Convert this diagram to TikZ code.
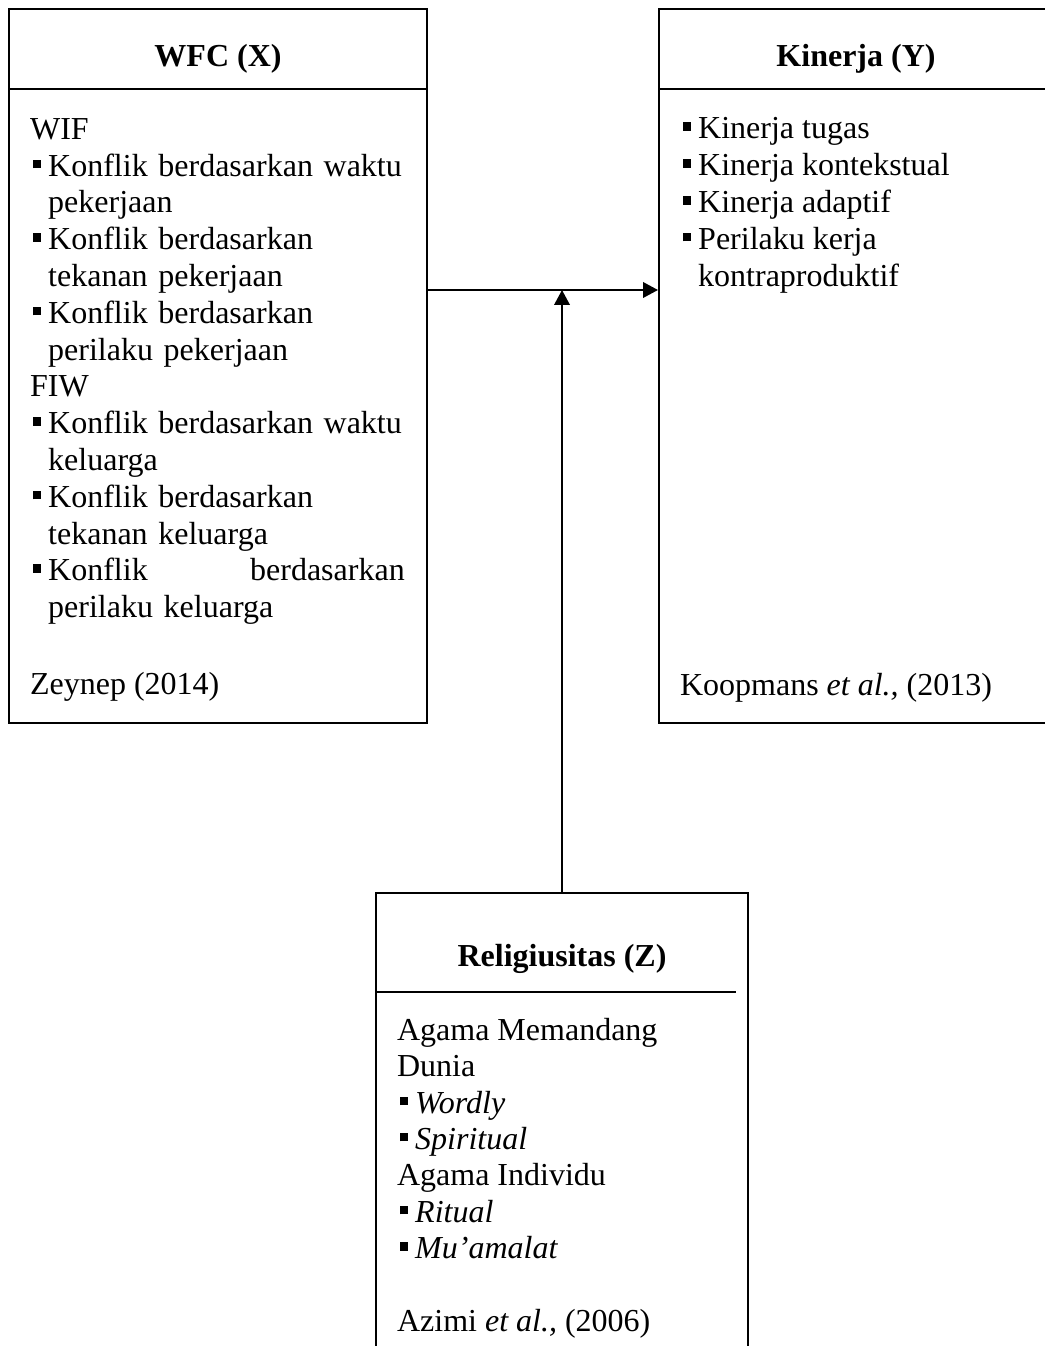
\documentclass[tikz,border=0pt]{standalone}
\usepackage{fontspec}
\setmainfont{Liberation Serif}
\usetikzlibrary{arrows.meta,positioning}
\newcommand{\sqbul}{\hspace*{1pt}\rule[3pt]{3pt}{3.2pt}\hspace*{2.8pt}}
\newcommand{\hang}{\hspace*{6.8pt}}

\begin{document}
\begin{tikzpicture}[x=0.375pt, y=-0.375pt, font=\fontsize{12}{13.8}\selectfont, line width=0.75pt]
\tikzstyle{box}=[draw, inner sep=0pt]
\tikzstyle{head}=[font=\fontsize{12}{13.8}\selectfont\bfseries, inner sep=0pt]
\tikzstyle{body}=[align=left, inner sep=0pt, anchor=north west]
\tikzstyle{cite}=[anchor=base west, inner sep=0pt]
\tikzstyle{arr}=[-{Triangle[length=5.6pt,width=5.8pt]}]
\useasboundingbox (0,0) rectangle (1044,1346);
\node[box, minimum width=156.75pt, minimum height=267.75pt] (wfc) at (218,366) {};
\node[box, minimum width=147.75pt, minimum height=267.75pt] (kin) at (856,366) {};
\node[box, minimum width=139.5pt, minimum height=178.9pt] (rel) at (562,1131.5) {};
\draw ([yshift=-30.4pt]wfc.north west) -- ([yshift=-30.4pt]wfc.north east);
\draw ([yshift=-30.4pt]kin.north west) -- ([yshift=-30.4pt]kin.north east);
\draw ([yshift=-37.5pt]rel.north west) -- ([xshift=-4.9pt,yshift=-37.5pt]rel.north east);
\node[head] (wfct) at ([yshift=-18.9pt]wfc.north) {WFC (X)};
\node[head] (kint) at ([yshift=-18.9pt]kin.north) {Kinerja (Y)};
\node[head] (relt) at ([yshift=-25.1pt]rel.north) {Religiusitas (Z)};
\node[body, text width=140.5pt, below right=41pt and 7.9pt of wfc.north west] (wfcb) {WIF\\
\sqbul Konflik berdasarkan waktu\\
\hang pekerjaan\\
\sqbul Konflik berdasarkan\\
\hang tekanan pekerjaan\\
\sqbul Konflik berdasarkan\\
\hang perilaku pekerjaan\\
FIW\\
\sqbul Konflik berdasarkan waktu\\
\hang keluarga\\
\sqbul Konflik berdasarkan\\
\hang tekanan keluarga\\
\sqbul Konflik\hfill berdasarkan\\
\hang perilaku keluarga};
\node[body, below right=40.8pt and 7.9pt of kin.north west] (kinb) {\sqbul Kinerja tugas\\
\sqbul Kinerja kontekstual\\
\sqbul Kinerja adaptif\\
\sqbul Perilaku kerja\\
\hang kontraproduktif};
\node[body, font=\fontsize{12}{13.65}\selectfont, below right=46.9pt and 7.9pt of rel.north west] (relb) {Agama Memandang\\
Dunia\\
\sqbul\textit{Wordly}\\
\sqbul\textit{Spiritual}\\
Agama Individu\\
\sqbul\textit{Ritual}\\
\sqbul\textit{Mu’amalat}\\[13.65pt]
Azimi \textit{et al.,} (2006)};
\node[cite] (wfcc) at ([xshift=7.9pt,yshift=11pt]wfc.south west) {Zeynep (2014)};
\node[cite] (kinc) at ([xshift=7.9pt,yshift=10.6pt]kin.south west) {Koopmans \textit{et al.,} (2013)};
\coordinate (jn) at (562,290);
\coordinate (xa) at (wfc.east |- jn);
\coordinate (ya) at (kin.west |- jn);
\foreach \x/\y in {xa/ya,rel.north/jn}{\draw[arr] (\x) -- (\y);}
\end{tikzpicture}
\end{document}
